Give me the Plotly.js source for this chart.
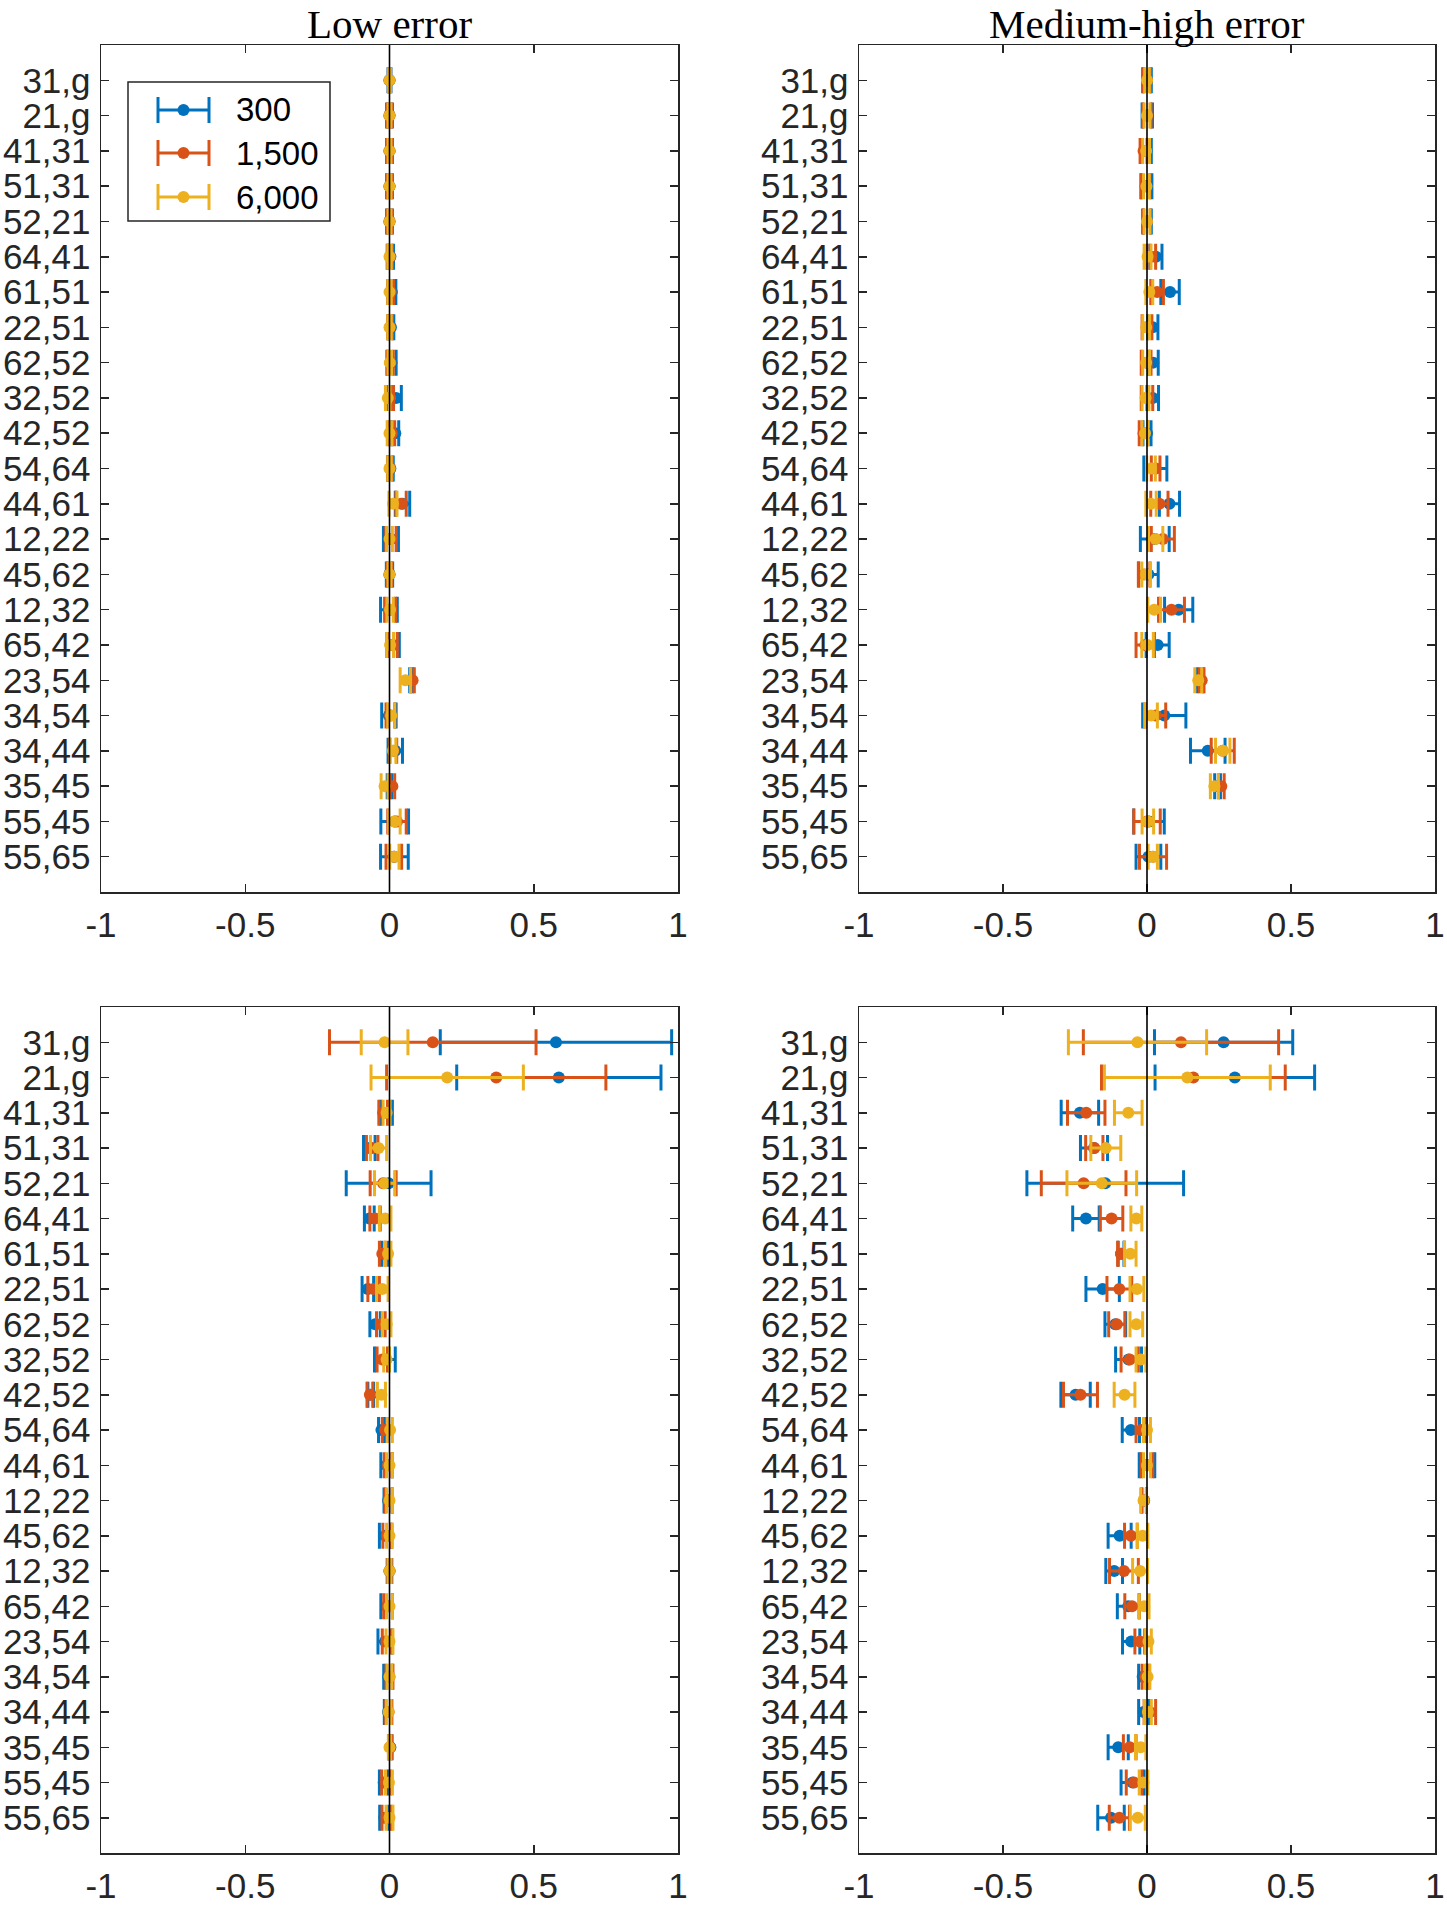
<!DOCTYPE html>
<html><head><meta charset="utf-8">
<script src="https://cdn.plot.ly/plotly-3.0.1.min.js"></script>
<style>html,body{margin:0;padding:0;background:#fff;}#chart{width:1447px;height:1917px;}</style>
</head><body><div id="chart"></div>
<script>
const categories = ["31,g","21,g","41,31","51,31","52,21","64,41","61,51","22,51","62,52","32,52","42,52","54,64","44,61","12,22","45,62","12,32","65,42","23,54","34,54","34,44","35,45","55,45","55,65"];
const seriesNames = ["300","1,500","6,000"];
const seriesColors = ["#0072BD","#D95319","#EDB120"];
const panelTitles = ["Low error","Medium-high error"];
const xTickVals = [-1,-0.5,0,0.5,1];
const xTickText = ["-1","-0.5","0","0.5","1"];

// Top-left panel (Low error, upper)
const tl300Mean  = [0,0,0,0,0,0.003,0.008,0.005,0.007,0.023,0.02,0.003,0.045,0.005,0,-0.002,0.012,0.075,-0.002,0.02,0,0.018,0.017];
const tl300Err   = [0.005,0.01,0.01,0.01,0.01,0.011,0.014,0.01,0.016,0.018,0.012,0.01,0.025,0.026,0.011,0.029,0.022,0.005,0.025,0.025,0.008,0.048,0.048];
const tl1500Mean = [0,0,0,0,0,0.002,0.004,0.002,0.003,0.002,0.008,0.002,0.04,0.005,0,0.002,0.01,0.08,0.003,0.013,0.01,0.026,0.015];
const tl1500Err  = [0.004,0.007,0.008,0.008,0.008,0.008,0.01,0.008,0.01,0.012,0.01,0.008,0.018,0.018,0.008,0.019,0.017,0.006,0.015,0.012,0.008,0.032,0.027];
const tl6000Mean = [0,0,0,0,0,0,0,0,0.001,-0.006,0,0,0.012,0,0,0.002,0.002,0.055,0.006,0.012,-0.017,0.017,0.017];
const tl6000Err  = [0.003,0.005,0.005,0.005,0.005,0.006,0.006,0.006,0.006,0.008,0.008,0.006,0.014,0.01,0.005,0.011,0.012,0.018,0.012,0.01,0.012,0.02,0.016];

// Top-right panel (Medium-high error, upper)
const tr300Mean  = [0,0.001,-0.002,-0.002,0,0.031,0.08,0.02,0.022,0.02,0,0.029,0.078,0.027,0.005,0.11,0.037,0.185,0.06,0.211,0.245,0.007,0.005];
const tr300Err   = [0.015,0.018,0.017,0.019,0.015,0.021,0.032,0.018,0.017,0.02,0.014,0.04,0.035,0.05,0.034,0.049,0.04,0.01,0.075,0.06,0.01,0.053,0.043];
const tr1500Mean = [0,0,-0.012,-0.005,0,0.015,0.035,0,-0.003,0,-0.012,0.03,0.043,0.055,-0.01,0.085,-0.006,0.19,0.03,0.263,0.258,0,0.021];
const tr1500Err  = [0.012,0.014,0.012,0.015,0.012,0.015,0.022,0.017,0.017,0.02,0.015,0.015,0.03,0.04,0.02,0.045,0.032,0.008,0.035,0.04,0.01,0.046,0.047];
const tr6000Mean = [0,0,-0.003,-0.002,0,0.002,0.008,-0.003,-0.003,-0.005,-0.007,0.014,0.014,0.03,-0.003,0.025,0.002,0.178,0.014,0.263,0.234,0.003,0.02];
const tr6000Err  = [0.008,0.01,0.012,0.01,0.01,0.012,0.012,0.012,0.012,0.012,0.01,0.015,0.018,0.025,0.015,0.022,0.02,0.012,0.022,0.025,0.014,0.02,0.016];

// Bottom-left panel (Low error, lower)
const bl300Mean  = [0.577,0.587,-0.01,-0.07,-0.003,-0.07,-0.015,-0.075,-0.05,-0.016,-0.065,-0.028,-0.01,-0.005,-0.015,0,-0.01,-0.015,-0.005,-0.005,0.003,-0.02,-0.018];
const bl300Err   = [0.401,0.354,0.02,0.02,0.147,0.017,0.012,0.02,0.018,0.036,0.01,0.01,0.02,0.014,0.02,0.008,0.02,0.025,0.015,0.013,0.006,0.015,0.016];
const bl1500Mean = [0.15,0.37,-0.022,-0.06,-0.022,-0.05,-0.025,-0.055,-0.03,-0.025,-0.068,-0.015,-0.005,-0.003,-0.008,0,-0.005,-0.01,0,-0.003,0.002,-0.012,-0.01];
const bl1500Err  = [0.358,0.38,0.015,0.02,0.045,0.018,0.01,0.02,0.015,0.018,0.01,0.01,0.013,0.012,0.015,0.006,0.015,0.015,0.012,0.01,0.005,0.015,0.016];
const bl6000Mean = [-0.017,0.2,-0.01,-0.038,-0.017,-0.015,-0.005,-0.025,-0.01,-0.01,-0.028,0.002,0,0,0,0,0,0,0,-0.003,0,-0.002,0];
const bl6000Err  = [0.081,0.264,0.012,0.028,0.035,0.02,0.01,0.02,0.015,0.01,0.014,0.008,0.01,0.01,0.01,0.005,0.01,0.012,0.008,0.008,0.004,0.012,0.012];

// Bottom-right panel (Medium-high error, lower)
const br300Mean  = [0.266,0.305,-0.233,-0.184,-0.145,-0.212,-0.09,-0.154,-0.11,-0.064,-0.248,-0.056,0,-0.01,-0.095,-0.114,-0.065,-0.055,-0.015,-0.012,-0.1,-0.05,-0.125];
const br300Err   = [0.24,0.277,0.065,0.047,0.272,0.046,0.01,0.058,0.036,0.045,0.051,0.03,0.027,0.008,0.04,0.029,0.038,0.03,0.014,0.017,0.035,0.04,0.046];
const br1500Mean = [0.118,0.161,-0.211,-0.183,-0.22,-0.123,-0.09,-0.096,-0.105,-0.06,-0.231,-0.02,0,-0.01,-0.056,-0.08,-0.052,-0.025,-0.005,0.01,-0.06,-0.045,-0.096];
const br1500Err  = [0.339,0.319,0.065,0.03,0.147,0.039,0.012,0.043,0.028,0.03,0.059,0.018,0.02,0.008,0.022,0.05,0.025,0.017,0.012,0.02,0.022,0.027,0.035];
const br6000Mean = [-0.033,0.14,-0.065,-0.143,-0.157,-0.037,-0.058,-0.035,-0.037,-0.021,-0.078,0,0,-0.012,-0.015,-0.024,-0.01,0.005,0.002,0.003,-0.022,-0.012,-0.032];
const br6000Err  = [0.24,0.288,0.048,0.052,0.121,0.019,0.02,0.024,0.022,0.017,0.036,0.012,0.012,0.01,0.018,0.026,0.017,0.01,0.008,0.012,0.018,0.015,0.026];

// ---------- figure geometry ----------
const W = 1447, H = 1917;
const M = {l:101, r:12, t:45, b:64};
const PW = W - M.l - M.r, PH = H - M.t - M.b;
const px2x = p => (p - M.l) / PW;
const px2y = p => (H - M.b - p) / PH;
const colL = [0, px2x(678)], colR = [px2x(859), 1];
const rowT = [px2y(892), 1], rowB = [0, px2y(1007)];

const panels = [
  {xa:'x',  ya:'y',  data:[[tl300Mean,tl300Err],[tl1500Mean,tl1500Err],[tl6000Mean,tl6000Err]]},
  {xa:'x2', ya:'y2', data:[[tr300Mean,tr300Err],[tr1500Mean,tr1500Err],[tr6000Mean,tr6000Err]]},
  {xa:'x3', ya:'y3', data:[[bl300Mean,bl300Err],[bl1500Mean,bl1500Err],[bl6000Mean,bl6000Err]]},
  {xa:'x4', ya:'y4', data:[[br300Mean,br300Err],[br1500Mean,br1500Err],[br6000Mean,br6000Err]]}
];

const traces = [];
panels.forEach(p => {
  p.data.forEach((d, s) => {
    traces.push({
      type:'scatter', mode:'markers', name:seriesNames[s],
      x:d[0], y:categories, xaxis:p.xa, yaxis:p.ya,
      error_x:{type:'data', array:d[1], visible:true, color:seriesColors[s], thickness:3, width:13},
      marker:{size:12, color:seriesColors[s], line:{width:0}},
      showlegend:false, cliponaxis:false, hoverinfo:'x+y'
    });
  });
});

const axisCol = '#262626';
const tickFont = {family:'Liberation Sans, Arial, sans-serif', size:35, color:axisCol};
function xAxis(domain, anchor){
  return {domain, anchor, range:[-1,1], tickmode:'array', tickvals:xTickVals, ticktext:xTickText,
    ticks:'inside', ticklen:8, tickwidth:1.5, tickcolor:axisCol,
    showline:true, mirror:'ticks', linecolor:axisCol, linewidth:1.5,
    showgrid:false, zeroline:false, tickfont:tickFont, ticklabelstandoff:1, fixedrange:true};
}
function yAxis(domain, anchor){
  return {domain, anchor, type:'category', categoryorder:'array', categoryarray:categories,
    range:[categories.length, -1], tickmode:'array', tickvals:categories, ticktext:categories,
    ticks:'inside', ticklen:8, tickwidth:1.5, tickcolor:axisCol,
    showline:true, mirror:'ticks', linecolor:axisCol, linewidth:1.5,
    showgrid:false, zeroline:false, tickfont:tickFont, ticklabelstandoff:2, fixedrange:true};
}

const shapes = [];
const annotations = [];
[['x','y'],['x2','y2'],['x3','y3'],['x4','y4']].forEach(([xa,ya]) => {
  shapes.push({type:'line', xref:xa, yref:ya+' domain', x0:0, x1:0, y0:0, y1:1,
    line:{color:'#000', width:1.6}, layer:'above'});
});

// titles
[colL, colR].forEach((c, i) => {
  annotations.push({text:panelTitles[i], xref:'paper', yref:'paper',
    x:(c[0]+c[1])/2, y:px2y(0), xanchor:'center', yanchor:'top', showarrow:false, borderpad:0,
    font:{family:'Liberation Serif, Times New Roman, serif', size:41, color:'#000'}});
});

// legend (drawn manually to show error-bar glyphs)
shapes.push({type:'rect', xref:'paper', yref:'paper', x0:px2x(128), x1:px2x(330), y0:px2y(221), y1:px2y(82),
  line:{color:axisCol, width:1.5}, fillcolor:'#fff', layer:'above'});
const legRows = [110, 153, 197];
seriesNames.forEach((nm, s) => {
  const yc = legRows[s], col = seriesColors[s];
  shapes.push({type:'line', xref:'paper', yref:'paper', x0:px2x(158), x1:px2x(209), y0:px2y(yc), y1:px2y(yc), line:{color:col, width:3}, layer:'above'});
  shapes.push({type:'line', xref:'paper', yref:'paper', x0:px2x(158), x1:px2x(158), y0:px2y(yc-13), y1:px2y(yc+13), line:{color:col, width:3}, layer:'above'});
  shapes.push({type:'line', xref:'paper', yref:'paper', x0:px2x(209), x1:px2x(209), y0:px2y(yc-13), y1:px2y(yc+13), line:{color:col, width:3}, layer:'above'});
  shapes.push({type:'circle', xref:'paper', yref:'paper', x0:px2x(177.5), x1:px2x(189.5), y0:px2y(yc+6), y1:px2y(yc-6), line:{width:0}, fillcolor:col, layer:'above'});
  annotations.push({text:nm, xref:'paper', yref:'paper', x:px2x(234), y:px2y(yc), xanchor:'left', yanchor:'middle',
    showarrow:false, font:{family:'Liberation Sans, Arial, sans-serif', size:33, color:'#000'}});
});

const layout = {
  width:W, height:H, margin:M, paper_bgcolor:'#fff', plot_bgcolor:'#fff',
  showlegend:false,
  xaxis:xAxis(colL,'y'), yaxis:yAxis(rowT,'x'),
  xaxis2:xAxis(colR,'y2'), yaxis2:yAxis(rowT,'x2'),
  xaxis3:xAxis(colL,'y3'), yaxis3:yAxis(rowB,'x3'),
  xaxis4:xAxis(colR,'y4'), yaxis4:yAxis(rowB,'x4'),
  shapes, annotations
};
Plotly.newPlot('chart', traces, layout, {staticPlot:true, displayModeBar:false});
</script></body></html>
